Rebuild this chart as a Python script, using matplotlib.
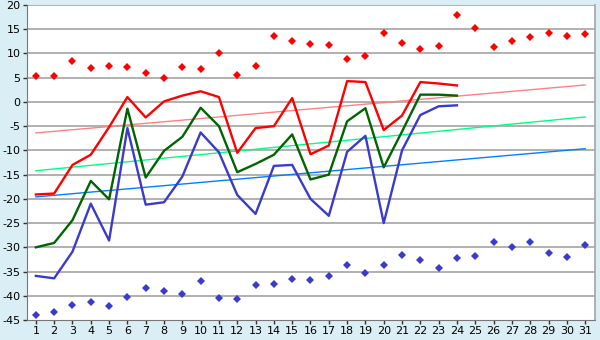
import numpy as np
import matplotlib
matplotlib.use("Agg")
import matplotlib.pyplot as plt

plt.rcParams["axes.unicode_minus"] = False

days = np.arange(1, 32)

# daily extremes (points)
high_pts = [5.4, 5.4, 8.5, 7.0, 7.4, 7.2, 6.0, 5.0, 7.2, 6.8,
            10.1, 5.6, 7.4, 13.5, 12.6, 12.0, 11.8, 8.9, 9.5, 14.3,
            12.2, 11.0, 11.6, 18.0, 15.3, 11.4, 12.6, 13.4, 14.3, 13.6, 14.0]
low_pts = [-44.0, -43.4, -41.9, -41.3, -42.1, -40.3, -38.4, -39.0, -39.7, -37.0,
           -40.5, -40.7, -37.8, -37.6, -36.6, -36.8, -36.0, -33.7, -35.3, -33.7,
           -31.6, -32.6, -34.3, -32.2, -31.8, -28.9, -30.0, -28.9, -31.2, -32.0, -29.5]

# measured lines, first 24 days
line_days = np.arange(1, 25)
red_line = [-19.1, -18.9, -13.0, -10.9, -5.2, 1.0, -3.2, 0.1, 1.3, 2.2,
            1.0, -10.5, -5.4, -5.0, 0.8, -10.8, -9.0, 4.3, 4.1, -5.8,
            -2.8, 4.1, 3.8, 3.4]
green_line = [-30.0, -29.1, -24.4, -16.3, -20.1, -1.4, -15.6, -10.1, -7.2, -1.2,
              -5.0, -14.5, -12.8, -10.9, -6.7, -16.0, -15.0, -4.0, -1.3, -13.5,
              -6.1, 1.5, 1.5, 1.3]
blue_line = [-35.9, -36.4, -30.9, -21.0, -28.6, -5.4, -21.2, -20.7, -15.4, -6.3,
             -10.4, -19.2, -23.1, -13.2, -13.0, -20.0, -23.5, -10.3, -7.0, -25.0,
             -10.0, -2.7, -0.9, -0.7]

# trend lines: value at day 1 and day 31
trend_red = [-6.4, 3.5]
trend_green = [-14.2, -3.1]
trend_blue = [-19.6, -9.65]

bg = "#d9eef5"
fig = plt.figure(figsize=(6, 3.4), dpi=100, facecolor=bg)
ax = fig.add_axes([0.0445, 0.0588, 0.9475, 0.9265])
ax.set_facecolor("white")

for y in range(-40, 25, 5):
    ax.axhline(y, color="#aaaaaa", lw=1.3, zorder=1)

ax.plot([1, 31], trend_red, color="#ff8080", lw=1, zorder=2)
ax.plot([1, 31], trend_green, color="#00ff80", lw=1, zorder=2)
ax.plot([1, 31], trend_blue, color="#0080ff", lw=1, zorder=2)

ax.plot(line_days, red_line, color="#ff0000", lw=1.7, zorder=3)
ax.plot(line_days, green_line, color="#006400", lw=1.7, zorder=3)
ax.plot(line_days, blue_line, color="#3a3acc", lw=1.7, zorder=3)

ax.plot(days, high_pts, "D", color="#ff0000", ms=4.2, mew=0, zorder=4)
ax.plot(days, low_pts, "D", color="#3a3acc", ms=4.2, mew=0, zorder=4)

ax.set_xlim(0.5, 31.55)
ax.set_ylim(-45, 20)
ax.set_xticks(days)
ax.set_yticks(range(-45, 25, 5))
ax.tick_params(axis="both", labelsize=8, length=3, width=1, color="#333333",
               pad=1.5, direction="out")
ax.spines["top"].set_visible(False)
ax.spines["left"].set_color("#777777")
ax.spines["bottom"].set_color("#777777")
ax.spines["right"].set_color("#aaaaaa")
ax.spines["right"].set_linewidth(1.3)

fig.savefig("out.png", facecolor=bg)
